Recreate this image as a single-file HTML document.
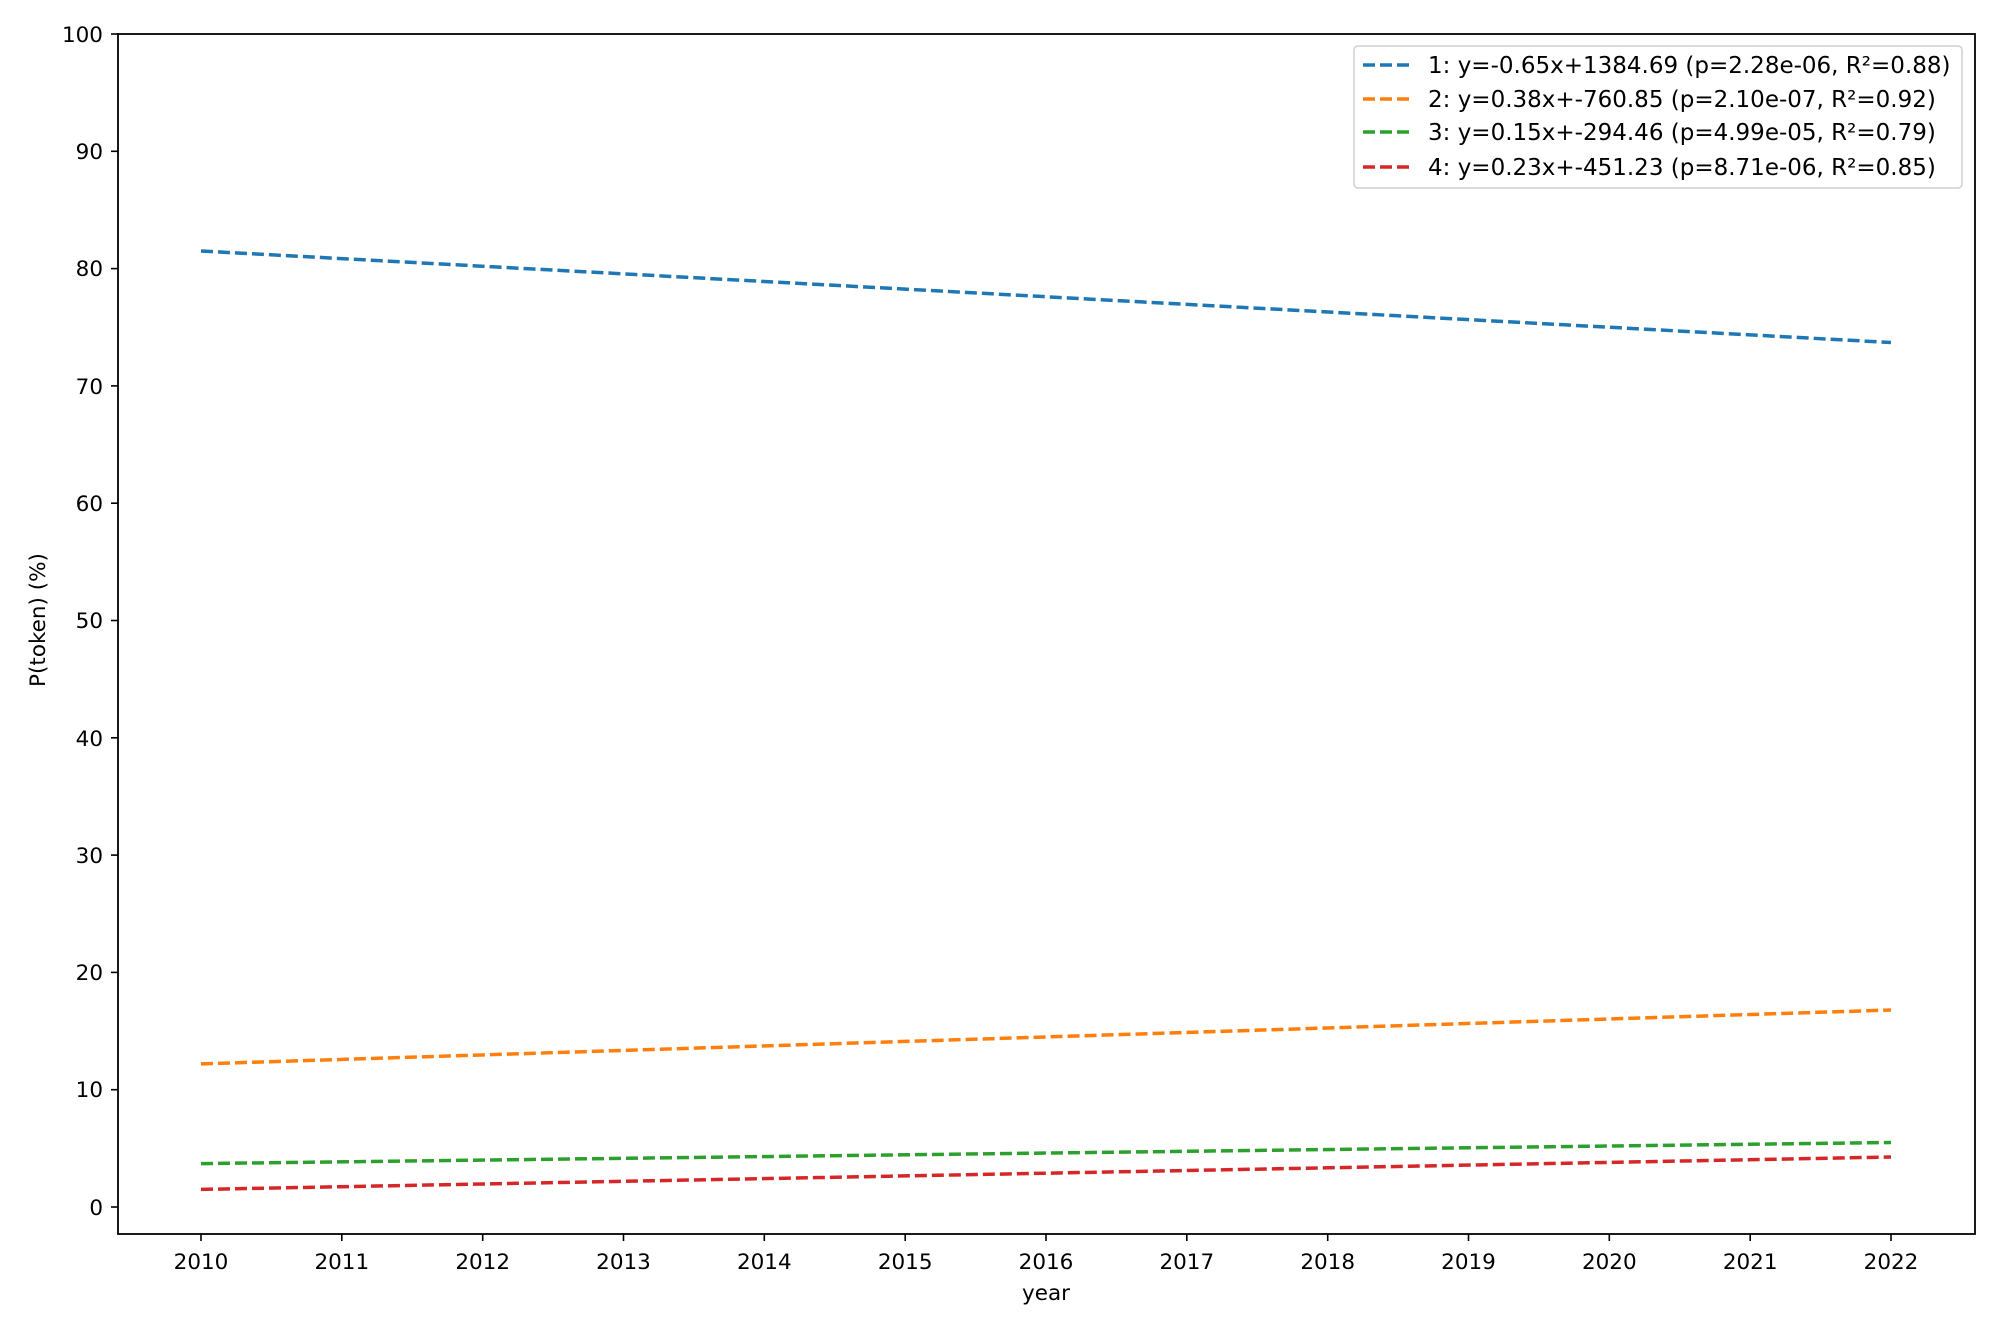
<!DOCTYPE html>
<html><head><meta charset="utf-8"><style>body{margin:0;background:#fff}svg{display:block}text{font-family:"DejaVu Sans","Liberation Sans",sans-serif;font-size:21.5px;fill:#000}text.lg{font-size:23px}</style></head><body>
<svg width="2000" height="1333" viewBox="0 0 2000 1333" xmlns="http://www.w3.org/2000/svg">
<rect x="118" y="34" width="1857" height="1200" fill="#fff" stroke="#000" stroke-width="1.8"/>
<g stroke="#000" stroke-width="1.6">
<line x1="111" y1="34" x2="118" y2="34"/><line x1="111" y1="151.3" x2="118" y2="151.3"/><line x1="111" y1="268.6" x2="118" y2="268.6"/><line x1="111" y1="385.9" x2="118" y2="385.9"/><line x1="111" y1="503.2" x2="118" y2="503.2"/><line x1="111" y1="620.5" x2="118" y2="620.5"/><line x1="111" y1="737.8" x2="118" y2="737.8"/><line x1="111" y1="855.1" x2="118" y2="855.1"/><line x1="111" y1="972.4" x2="118" y2="972.4"/><line x1="111" y1="1089.7" x2="118" y2="1089.7"/><line x1="111" y1="1207" x2="118" y2="1207"/>
<line x1="201" y1="1234" x2="201" y2="1241"/><line x1="341.8" y1="1234" x2="341.8" y2="1241"/><line x1="482.7" y1="1234" x2="482.7" y2="1241"/><line x1="623.5" y1="1234" x2="623.5" y2="1241"/><line x1="764.3" y1="1234" x2="764.3" y2="1241"/><line x1="905.2" y1="1234" x2="905.2" y2="1241"/><line x1="1046" y1="1234" x2="1046" y2="1241"/><line x1="1186.8" y1="1234" x2="1186.8" y2="1241"/><line x1="1327.7" y1="1234" x2="1327.7" y2="1241"/><line x1="1468.5" y1="1234" x2="1468.5" y2="1241"/><line x1="1609.3" y1="1234" x2="1609.3" y2="1241"/><line x1="1750.2" y1="1234" x2="1750.2" y2="1241"/><line x1="1891" y1="1234" x2="1891" y2="1241"/>
</g>
<g text-anchor="end">
<text x="103" y="42">100</text><text x="103" y="159">90</text><text x="103" y="276">80</text><text x="103" y="394">70</text><text x="103" y="511">60</text><text x="103" y="628">50</text><text x="103" y="746">40</text><text x="103" y="863">30</text><text x="103" y="980">20</text><text x="103" y="1097">10</text><text x="103" y="1215">0</text>
</g>
<g text-anchor="middle">
<text x="201" y="1269">2010</text><text x="341.8" y="1269">2011</text><text x="482.7" y="1269">2012</text><text x="623.5" y="1269">2013</text><text x="764.3" y="1269">2014</text><text x="905.2" y="1269">2015</text><text x="1046" y="1269">2016</text><text x="1186.8" y="1269">2017</text><text x="1327.7" y="1269">2018</text><text x="1468.5" y="1269">2019</text><text x="1609.3" y="1269">2020</text><text x="1750.2" y="1269">2021</text><text x="1891" y="1269">2022</text>
<text x="1046" y="1300">year</text>
<text transform="translate(45,620) rotate(-90)">P(token) (%)</text>
</g>
<g fill="none" stroke-width="3.5" stroke-dasharray="12 5">
<line x1="201" y1="251" x2="1891" y2="342.5" stroke="#1f77b4"/>
<line x1="201" y1="1063.9" x2="1891" y2="1010" stroke="#ff7f0e"/>
<line x1="201" y1="1163.6" x2="1891" y2="1142.5" stroke="#2ca02c"/>
<line x1="201" y1="1189.4" x2="1891" y2="1157" stroke="#d62728"/>
</g>
<rect x="1354" y="46" width="608" height="142" rx="4" fill="#fff" stroke="#d0d0d0" stroke-width="1.5"/>
<g stroke-width="3.5" stroke-dasharray="12 5">
<line x1="1363" y1="65" x2="1411" y2="65" stroke="#1f77b4"/>
<line x1="1363" y1="99" x2="1411" y2="99" stroke="#ff7f0e"/>
<line x1="1363" y1="132" x2="1411" y2="132" stroke="#2ca02c"/>
<line x1="1363" y1="167" x2="1411" y2="167" stroke="#d62728"/>
</g>
<text class="lg" x="1428" y="73">1: y=-0.65x+1384.69 (p=2.28e-06, R²=0.88)</text>
<text class="lg" x="1428" y="107">2: y=0.38x+-760.85 (p=2.10e-07, R²=0.92)</text>
<text class="lg" x="1428" y="140">3: y=0.15x+-294.46 (p=4.99e-05, R²=0.79)</text>
<text class="lg" x="1428" y="175">4: y=0.23x+-451.23 (p=8.71e-06, R²=0.85)</text>
</svg>
</body></html>
